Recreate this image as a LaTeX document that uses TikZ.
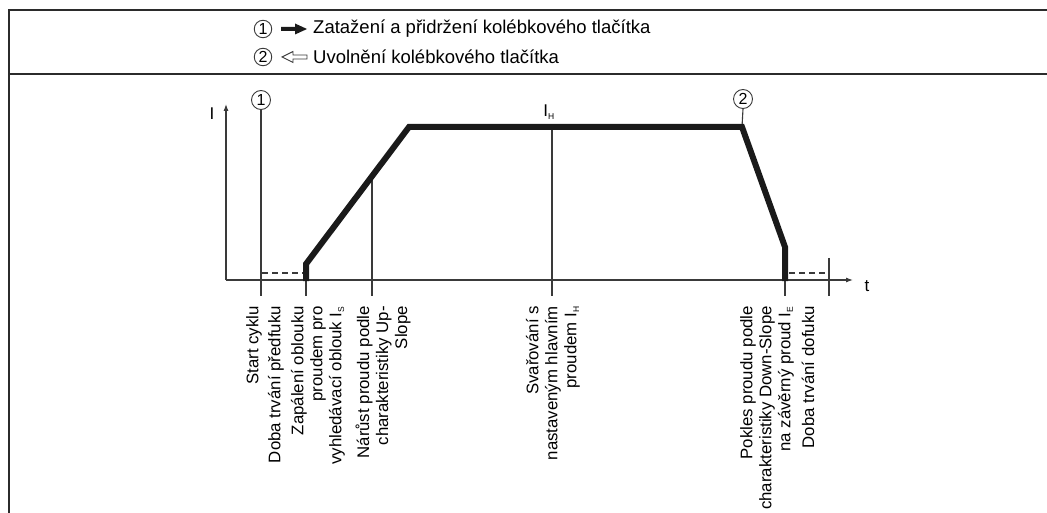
\documentclass[tikz,border=0pt]{standalone}
\usepackage{fontspec}
\setmainfont{Liberation Sans}
\usetikzlibrary{arrows.meta}
\definecolor{framegray}{HTML}{2B2B2B}
\definecolor{linegray}{HTML}{3A3A3A}
\definecolor{curveblack}{HTML}{1A1A1A}
\begin{document}
\begin{tikzpicture}[x=1pt,y=-1pt,
  frameline/.style={draw=framegray,line width=2.6pt},
  axisline/.style={draw=linegray,line width=1.1pt,-{Latex[length=7pt,width=5pt]}},
  thin/.style={draw=linegray,line width=1.1pt},
  dashline/.style={draw=linegray,line width=1.1pt,dash pattern=on 6pt off 4pt},
  curve/.style={draw=curveblack,line width=6pt,line join=miter},
  num/.style={circle,draw=linegray,line width=0.9pt,inner sep=0pt,minimum size=19pt,
    font=\fontsize{16}{16}\selectfont},
  legnum/.style={num,minimum size=17.5pt},
  legtext/.style={anchor=west,inner sep=0pt,font=\fontsize{18.5}{21}\selectfont},
  lbl/.style={rotate=90,anchor=east,align=right,inner sep=0pt,
    font=\fontsize{16.8}{19}\selectfont},
  axlbl/.style={inner sep=0pt,font=\fontsize{17}{19}\selectfont}]
\useasboundingbox (0,0) rectangle (1047,513);

% outer frame and legend separator
\draw[frameline] (1050,10) -- (9,10) -- (9,516);
\draw[frameline] (9,74) -- (1050,74);

% legend
\node[legnum] (k1) at (263,29) {1};
\fill[curveblack] (281,27) -- (295,27) -- (295,23.5) -- (307,29) -- (295,34.5) -- (295,31) -- (281,31) -- cycle;
\node[legtext] (k1t) at (313,29) {Zatažení a přidržení kolébkového tlačítka};
\node[legnum] (k2) at (263,57) {2};
\draw[linegray,line width=0.9pt,line join=miter] (282,57) -- (293,51.5) -- (293,55) -- (307,55) -- (307,59) -- (293,59) -- (293,62.5) -- cycle;
\node[legtext] (k2t) at (313,57) {Uvolnění kolébkového tlačítka};

% axes
\coordinate (O) at (226,280);
\coordinate (Ytop) at (226,104);
\coordinate (Xend) at (853,280);
\draw[axisline] (O) -- (Ytop);
\draw[axisline] (O) -- (Xend);
\node[axlbl] (ilab) at (212,114) {I};
\node[axlbl] (tlab) at (867,286) {t};

% curve breakpoints
\coordinate (c0) at (306,281);
\coordinate (c1) at (306,264);
\coordinate (c2) at (409,127);
\coordinate (c3) at (742,127);
\coordinate (c4) at (785,247);
\coordinate (c5) at (785,281);

% tick lines
\node[num] (m1) at (261,100) {1};
\coordinate (m1b) at (261,296);
\draw[thin] (m1.south) -- (m1b);
\coordinate (t1) at (306,296);
\draw[thin] (c0) -- (t1);
\coordinate (s1) at (372,177);
\coordinate (s1b) at (372,296);
\draw[thin] (s1) -- (s1b);
\coordinate (h1) at (552,127);
\coordinate (h1b) at (552,296);
\draw[thin] (h1) -- (h1b);
\node[axlbl] (ih) at (549,112) {I\textsubscript{\fontsize{8.5}{8.5}\selectfont H}};
\node[num] (m2) at (743,99) {2};
\draw[thin] (m2.south) -- (c3);
\coordinate (t2) at (785,296);
\draw[thin] (c5) -- (t2);
\coordinate (e1) at (829,258);
\coordinate (e1b) at (829,296);
\draw[thin] (e1) -- (e1b);

% gas pre-flow and post-flow levels
\coordinate (d0) at (262,273);
\coordinate (d1) at (303,273);
\draw[dashline] (d0) -- (d1);
\coordinate (d2) at (789,273);
\coordinate (d3) at (828,273);
\draw[dashline] (d2) -- (d3);

% welding current profile
\draw[curve] (c0) -- (c1) -- (c2) -- (c3) -- (c4) -- (c5);

% phase descriptions
\node[lbl] (l1) at (254,306) {Start cyklu};
\node[lbl] (l2) at (276,306) {Doba trvání předfuku};
\node[lbl] (l3) at (318,306) {Zapálení oblouku\\proudem pro\\vyhledávací oblouk I\textsubscript{\fontsize{8.5}{8.5}\selectfont S}};
\node[lbl] (l4) at (383,306) {Nárůst proudu podle\\charakteristiky Up-\\Slope};
\node[lbl] (l5) at (553,306) {Svařování s\\nastaveným hlavním\\proudem I\textsubscript{\fontsize{8.5}{8.5}\selectfont H}};
\node[lbl] (l6) at (767,306) {Pokles proudu podle\\charakteristiky Down-Slope\\na závěrný proud I\textsubscript{\fontsize{8.5}{8.5}\selectfont E}};
\node[lbl] (l7) at (808,306) {Doba trvání dofuku};
\end{tikzpicture}
\end{document}
